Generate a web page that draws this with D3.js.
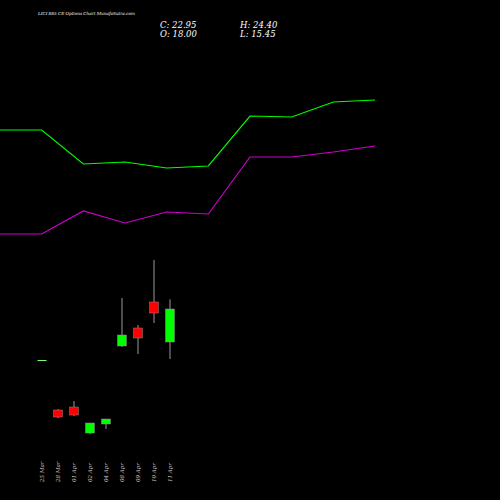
<!DOCTYPE html>
<html><head><meta charset="utf-8">
<script src="https://cdn.jsdelivr.net/npm/d3@7"></script>
<style>body{margin:0;background:#000}</style>
</head><body><div id="chart"></div>
<script>
// candle data
var dates = ["25 Mar","28 Mar","01 Apr","02 Apr","04 Apr","08 Apr","09 Apr","10 Apr","11 Apr"];
var opens = [15.3, 7.8, 8.25, 4.35, 5.7, 17.4, 20.1, 24.0, 18.0];
var closes = [15.3, 6.75, 7.05, 5.85, 6.45, 19.05, 18.6, 22.35, 22.95];
var highs = [15.3, 7.95, 9.15, 5.85, 6.45, 24.6, 20.55, 30.3, 24.4];
var lows = [15.3, 6.6, 6.9, 4.2, 4.95, 17.25, 16.2, 20.85, 15.45];
// indicator lines (relative levels)
var greenLine = [370, 370, 336, 338, 332, 334, 384, 383, 398, 400];
var magentaLine = [266, 266, 289, 277, 288, 286, 343, 343, 348, 354];

var svg = d3.select("#chart").append("svg").attr("width", 500).attr("height", 500)
  .style("background", "#000");

var x = d3.scaleLinear().domain([0, 8]).range([42, 170]);
var y = d3.scaleLinear().domain([22.95, 15.45]).range([309, 359]);
var xl = d3.scaleLinear().domain([0, 9]).range([0, 375]);
var yl = d3.scaleLinear().domain([0, 500]).range([500, 0]);

var line = d3.line().x((d, i) => xl(i)).y(d => yl(d));
svg.append("path").attr("d", line(greenLine)).attr("fill", "none").attr("stroke", "#00ff00").attr("stroke-width", 1.2);
svg.append("path").attr("d", line(magentaLine)).attr("fill", "none").attr("stroke", "#cc00cc").attr("stroke-width", 1.2);

var g = svg.append("g");
dates.forEach(function(d, i) {
  var up = closes[i] >= opens[i];
  var col = up ? "#00ff00" : "#ff0000";
  if (opens[i] == closes[i]) col = "#77ff77";
  g.append("line").attr("x1", x(i)).attr("x2", x(i)).attr("y1", y(highs[i])).attr("y2", y(lows[i]))
    .attr("stroke", "#999").attr("stroke-width", 1);
  var top = y(Math.max(opens[i], closes[i])), bot = y(Math.min(opens[i], closes[i]));
  g.append("rect").attr("x", x(i) - 4.5).attr("width", 9)
    .attr("y", top).attr("height", Math.max(bot - top, 1))
    .attr("fill", col).attr("stroke", opens[i] == closes[i] ? "none" : "#888").attr("stroke-width", 0.5);
  svg.append("text").attr("transform", `translate(${x(i) + 2},482) rotate(-90)`)
    .attr("fill", "#ccc").attr("font-family", "DejaVu Serif").attr("font-style", "italic")
    .attr("font-size", 5.5).text(d);
});

svg.append("text").attr("x", 38).attr("y", 15).attr("fill", "#fff").attr("font-family", "DejaVu Serif")
  .attr("font-style", "italic").attr("font-size", 4.2).text("LICI 885 CE Options  Chart MunafaSutra.com");
var info = [["C: 22.95", 160, 28], ["H: 24.40", 240, 28], ["O: 18.00", 160, 37], ["L: 15.45", 240, 37]];
info.forEach(function(t) {
  svg.append("text").attr("x", t[1]).attr("y", t[2]).attr("fill", "#fff").attr("font-family", "DejaVu Serif")
    .attr("font-style", "italic").attr("font-size", 8.5).text(t[0]);
});
</script></body></html>
